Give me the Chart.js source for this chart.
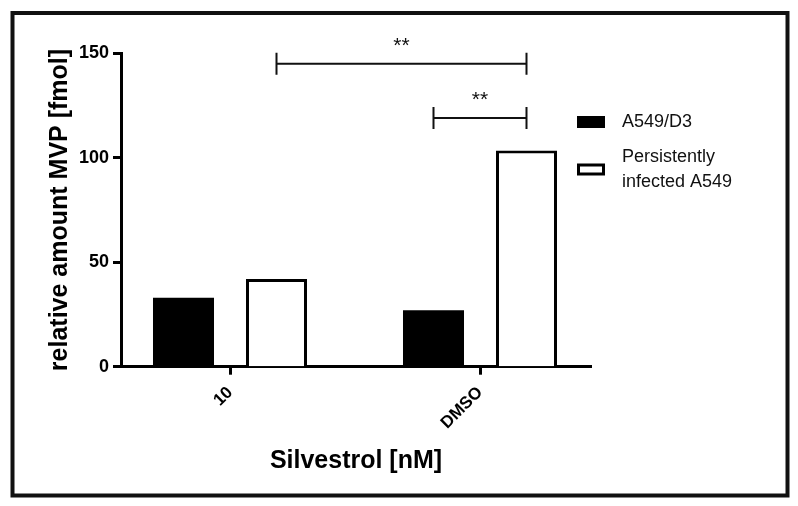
<!DOCTYPE html>
<html>
<head>
<meta charset="utf-8">
<script src="https://cdn.jsdelivr.net/npm/chart.js@4.4.1/dist/chart.umd.min.js"></script>
<style>
    html, body { margin: 0; padding: 0; background: #fff; }
</style>
</head>
<body>
<canvas id="mvp-chart" width="798" height="506"></canvas>
<script>
// データ
const categories = ['10', 'DMSO'];
const seriesNames = ['A549/D3', 'Persistently infected A549'];
const legendLines = [['A549/D3'], ['Persistently', 'infected A549']];
const valuesA549 = [33, 27];
const valuesPersistent = [42, 103.5];
const yTicks = [0, 50, 100, 150];

// 有意差ブラケット: [dataset, index] から [dataset, index] まで
const bracketFrom = [[1, 0], [0, 1]];
const bracketTo = [[1, 1], [1, 1]];
const bracketHeight = [145, 119];
const bracketLabel = ['**', '**'];

const FONT = '"Liberation Sans", Arial, Helvetica, sans-serif';
const INK = '#000';

// 外枠を描く
const framePlugin = {
    id: 'frame',
    beforeDraw(chart) {
        const ctx = chart.ctx;
        ctx.save();
        ctx.fillStyle = '#fff';
        ctx.fillRect(0, 0, chart.width, chart.height);
        ctx.strokeStyle = '#111';
        ctx.lineWidth = 4;
        ctx.strokeRect(12.5, 13, 775, 482.5);
        ctx.restore();
    }
};

// 有意差ブラケットを描く
const bracketPlugin = {
    id: 'brackets',
    afterDatasetsDraw(chart) {
        const ctx = chart.ctx;
        const yScale = chart.scales.y;
        ctx.save();
        ctx.strokeStyle = '#111';
        ctx.lineWidth = 2;
        ctx.fillStyle = '#111';
        ctx.font = '21px ' + FONT;
        ctx.textAlign = 'center';
        ctx.textBaseline = 'middle';
        bracketHeight.forEach((h, i) => {
            const x1 = chart.getDatasetMeta(bracketFrom[i][0]).data[bracketFrom[i][1]].x;
            const x2 = chart.getDatasetMeta(bracketTo[i][0]).data[bracketTo[i][1]].x;
            const y = yScale.getPixelForValue(h);
            ctx.beginPath();
            ctx.moveTo(x1, y); ctx.lineTo(x2, y);
            ctx.moveTo(x1, y - 11); ctx.lineTo(x1, y + 11);
            ctx.moveTo(x2, y - 11); ctx.lineTo(x2, y + 11);
            ctx.stroke();
            ctx.fillText(bracketLabel[i], (x1 + x2) / 2, y - 18);
        });
        ctx.restore();
    }
};

// 凡例（2行ラベル対応）
const legendPlugin = {
    id: 'sideLegend',
    afterDraw(chart) {
        const ctx = chart.ctx;
        const boxX = 577, boxW = 28, boxH = 12, textX = 622, lineH = 25;
        let y = 122;
        ctx.save();
        ctx.font = '18px ' + FONT;
        ctx.textBaseline = 'middle';
        ctx.textAlign = 'left';
        chart.data.datasets.forEach((ds, i) => {
            const lines = legendLines[i];
            const boxCenter = y + (lines.length - 1) * lineH / 2;
            ctx.fillStyle = ds.backgroundColor;
            ctx.fillRect(boxX, boxCenter - boxH / 2, boxW, boxH);
            if (ds.borderWidth) {
                ctx.strokeStyle = ds.borderColor;
                ctx.lineWidth = 3;
                ctx.strokeRect(boxX + 1.5, boxCenter - boxH / 2 + 1.5, boxW - 3, boxH - 3);
            }
            ctx.fillStyle = '#111';
            lines.forEach((t, k) => ctx.fillText(t, textX, y + k * lineH));
            y += lines.length * lineH + 10;
        });
        ctx.restore();
    }
};

const ctx = document.getElementById('mvp-chart').getContext('2d');
new Chart(ctx, {
    type: 'bar',
    data: {
        datasets: [
            {
                label: seriesNames[0],
                data: categories.map((c, i) => ({ x: i, y: valuesA549[i] })),
                backgroundColor: INK,
                borderWidth: 0
            },
            {
                label: seriesNames[1],
                data: categories.map((c, i) => ({ x: i, y: valuesPersistent[i] })),
                backgroundColor: '#fff',
                borderColor: INK,
                borderWidth: 3
            }
        ]
    },
    options: {
        responsive: false,
        devicePixelRatio: 1,
        animation: false,
        categoryPercentage: 0.744,
        barPercentage: 0.656,
        layout: { padding: { left: 0, top: 53.3, right: 207, bottom: 0 } },
        plugins: {
            legend: { display: false },
            tooltip: { enabled: false }
        },
        scales: {
            x: {
                type: 'linear',
                offset: false,
                min: -0.436,
                max: 1.444,
                afterBuildTicks: (scale) => { scale.ticks = categories.map((c, i) => ({ value: i })); },
                afterFit: (scale) => { scale.height = 506 - 366.7; },
                border: { display: true, color: INK, width: 3 },
                grid: { display: true, offset: false, drawOnChartArea: false, drawTicks: true, tickLength: 8, tickWidth: 3, tickColor: INK },
                ticks: {
                    callback: (v) => categories[v] ?? '',
                    minRotation: 45,
                    maxRotation: 45,
                    padding: 8,
                    color: INK,
                    font: { family: FONT, size: 17, weight: 'bold' }
                },
                title: {
                    display: true,
                    text: 'Silvestrol [nM]',
                    color: INK,
                    padding: { top: 0, bottom: 30 },
                    font: { family: FONT, size: 25, weight: 'bold' }
                }
            },
            y: {
                min: 0,
                max: 150,
                afterBuildTicks: (scale) => { scale.ticks = yTicks.map(v => ({ value: v })); },
                afterFit: (scale) => { scale.width = 121; },
                border: { display: true, color: INK, width: 3 },
                grid: { display: true, drawOnChartArea: false, drawTicks: true, tickLength: 8, tickWidth: 3, tickColor: INK },
                ticks: {
                    padding: 4,
                    color: INK,
                    font: { family: FONT, size: 18, weight: 'bold' }
                },
                title: {
                    display: true,
                    text: 'relative amount MVP [fmol]',
                    color: INK,
                    padding: { top: 45, bottom: 0 },
                    font: { family: FONT, size: 25, weight: 'bold' }
                }
            }
        }
    },
    plugins: [framePlugin, bracketPlugin, legendPlugin]
});
</script>
</body>
</html>
